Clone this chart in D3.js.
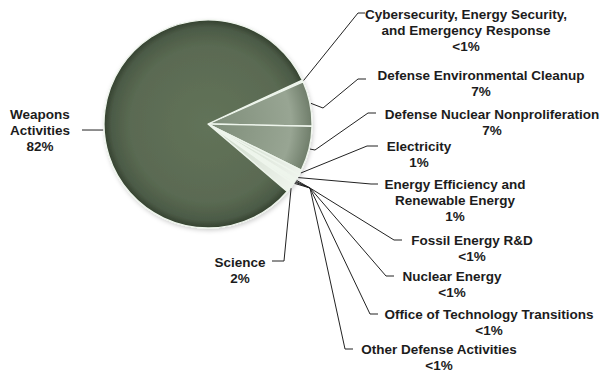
<!DOCTYPE html>
<html>
<head>
<meta charset="utf-8">
<script src="https://cdn.jsdelivr.net/npm/d3@7"></script>
<style>
  html, body { margin: 0; padding: 0; background: #fff; }
  svg { display: block; }
  text { font-family: "Liberation Sans", Arial, sans-serif; font-weight: bold; font-size: 13.5px; fill: #1c1c1c; }
</style>
</head>
<body>
<div id="main"></div>
<script>
// slices, clockwise from the upper right
const names = [
  "Cybersecurity, Energy Security, and Emergency Response",
  "Defense Environmental Cleanup",
  "Defense Nuclear Nonproliferation",
  "Electricity",
  "Energy Efficiency and Renewable Energy",
  "Fossil Energy R&D",
  "Nuclear Energy",
  "Office of Technology Transitions",
  "Other Defense Activities",
  "Science",
  "Weapons Activities"
]
const shares = [0.3, 7, 7, 0.8, 0.8, 0.2, 0.2, 0.1, 0.3, 1.5, 82]
const shareLabels = ["<1%", "7%", "7%", "1%", "1%", "<1%", "<1%", "<1%", "<1%", "2%", "82%"]
const labelLines = [
  ["Cybersecurity, Energy Security,", "and Emergency Response"],
  ["Defense Environmental Cleanup"],
  ["Defense Nuclear Nonproliferation"],
  ["Electricity"],
  ["Energy Efficiency and", "Renewable Energy"],
  ["Fossil Energy R&D"],
  ["Nuclear Energy"],
  ["Office of Technology Transitions"],
  ["Other Defense Activities"],
  ["Science"],
  ["Weapons", "Activities"]
]

// layout: label centre x, first line y, leader points after the slice edge
const layout = [
  { x: 466, y: 14, pts: [[358, 13], [365, 13]] },
  { x: 481, y: 75, pts: [[323, 108], [358, 79], [366, 79]] },
  { x: 492, y: 114, pts: [[315, 150], [368, 113], [376, 113]] },
  { x: 419, y: 146, pts: [[367, 146], [378, 146]] },
  { x: 455, y: 184, pts: [[371, 184], [378, 184]] },
  { x: 472, y: 240, pts: [[310, 188], [394, 240], [402, 240]] },
  { x: 452, y: 276, pts: [[310, 188], [386, 276], [394, 276]] },
  { x: 489, y: 314, pts: [[310, 188], [370, 314], [378, 314]] },
  { x: 439, y: 349, pts: [[310, 188], [345, 349], [353, 349]] },
  { x: 240, y: 262, pts: [[284, 261], [272, 261]] },
  { x: 40, y: 114, pts: [[82, 130]], angle: 266.7 }
]

const width = 602
const height = 372
const cx = 208
const cy = 124
const r = 104
const lineH = 16.3
const startDeg = 65

const svg = d3.select("#main").append("svg")
  .attr("width", width)
  .attr("height", height)

const defs = svg.append("defs")

// gradients live in the translated pie group's space, so centre is 0,0
const gradDark = defs.append("radialGradient").attr("id", "gDark")
  .attr("gradientUnits", "userSpaceOnUse")
  .attr("cx", 0).attr("cy", 0).attr("r", r)
gradDark.append("stop").attr("offset", "0%").attr("stop-color", "#627359")
gradDark.append("stop").attr("offset", "75%").attr("stop-color", "#5a6a52")
gradDark.append("stop").attr("offset", "93%").attr("stop-color", "#4b5a46")
gradDark.append("stop").attr("offset", "100%").attr("stop-color", "#34412f")

const gradMid = defs.append("radialGradient").attr("id", "gMid")
  .attr("gradientUnits", "userSpaceOnUse")
  .attr("cx", 0).attr("cy", 0).attr("r", r)
gradMid.append("stop").attr("offset", "0%").attr("stop-color", "#7e8d79")
gradMid.append("stop").attr("offset", "80%").attr("stop-color", "#98a593")
gradMid.append("stop").attr("offset", "100%").attr("stop-color", "#6f7d6a")

const gradLight = defs.append("radialGradient").attr("id", "gLight")
  .attr("gradientUnits", "userSpaceOnUse")
  .attr("cx", 0).attr("cy", 0).attr("r", r)
gradLight.append("stop").attr("offset", "0%").attr("stop-color", "#c9d6c5")
gradLight.append("stop").attr("offset", "100%").attr("stop-color", "#eef3ec")

const shadow = defs.append("filter").attr("id", "shadow")
  .attr("x", "-10%").attr("y", "-10%").attr("width", "130%").attr("height", "130%")
shadow.append("feDropShadow").attr("dx", 1).attr("dy", 2).attr("stdDeviation", 2)
  .attr("flood-color", "#000").attr("flood-opacity", 0.18)

const fillFor = i => {
  if (i === 10) return "url(#gDark)"
  if (i === 1 || i === 2) return "url(#gMid)"
  return "url(#gLight)"
}

const data = names.map((n, i) => ({ name: n, value: shares[i], i }))

const pie = d3.pie()
  .value(d => d.value)
  .sort(null)
  .startAngle(startDeg * Math.PI / 180)
  .endAngle((startDeg + 360) * Math.PI / 180)

const arcs = pie(data)
const arc = d3.arc().innerRadius(0).outerRadius(r)

const g = svg.append("g").attr("transform", `translate(${cx},${cy})`)

g.append("g").attr("filter", "url(#shadow)")
  .selectAll("path")
  .data(arcs)
  .join("path")
  .attr("d", arc)
  .attr("fill", d => fillFor(d.data.i))
  .attr("stroke", "#eef5ec")
  .attr("stroke-width", 1.3)
  .attr("stroke-linejoin", "round")

// leader lines
const edgePoint = (d, rr) => {
  const a = layout[d.data.i].angle !== undefined
    ? layout[d.data.i].angle * Math.PI / 180
    : (d.startAngle + d.endAngle) / 2
  return [cx + rr * Math.sin(a), cy - rr * Math.cos(a)]
}

svg.append("g")
  .selectAll("path")
  .data(arcs)
  .join("path")
  .attr("d", d => d3.line()([edgePoint(d, r + 1), ...layout[d.data.i].pts]))
  .attr("fill", "none")
  .attr("stroke", "#222")
  .attr("stroke-width", 1)

// labels
const labels = svg.append("g")
  .selectAll("text")
  .data(arcs)
  .join("text")
  .attr("text-anchor", "middle")

labels.each(function (d) {
  const L = layout[d.data.i]
  const lines = [...labelLines[d.data.i], shareLabels[d.data.i]]
  d3.select(this).selectAll("tspan")
    .data(lines)
    .join("tspan")
    .attr("x", L.x)
    .attr("y", (t, k) => L.y + k * lineH + 4.8)
    .text(t => t)
})
</script>
</body>
</html>
